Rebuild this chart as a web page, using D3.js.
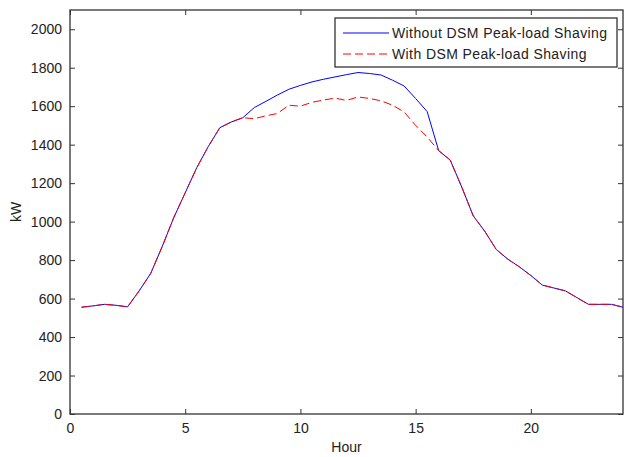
<!DOCTYPE html>
<html>
<head>
<meta charset="utf-8">
<script src="https://cdn.jsdelivr.net/npm/d3@7"></script>
<style>
body { margin: 0; background: #fff; }
text { font-family: "Liberation Sans", Arial, sans-serif; font-size: 14px; fill: #222; }
</style>
</head>
<body>
<div id="chart"></div>
<script>
// Width and height
var w = 626;
var h = 457;
var margin = {top: 10, right: 3, bottom: 43, left: 70};

// hours (half-hour steps) and loads in kW
var hours = [0.5, 1, 1.5, 2, 2.5, 3, 3.5, 4, 4.5, 5, 5.5, 6, 6.5, 7, 7.5, 8, 8.5, 9, 9.5, 10,
             10.5, 11, 11.5, 12, 12.5, 13, 13.5, 14, 14.5, 15, 15.5, 16, 16.5, 17, 17.5, 18, 18.5, 19, 19.5, 20,
             20.5, 21, 21.5, 22, 22.5, 23, 23.5, 24];
var withoutDSM = [555, 562, 570, 565, 557, 640, 730, 870, 1020, 1150, 1280, 1390, 1488, 1518, 1540, 1593, 1625, 1658, 1688, 1708,
                  1726, 1740, 1752, 1764, 1775, 1770, 1762, 1735, 1705, 1640, 1572, 1369, 1320, 1180, 1030, 950, 855, 805, 765, 720,
                  670, 655, 640, 605, 570, 570, 570, 555];
var withDSM = [555, 562, 570, 565, 557, 640, 730, 870, 1020, 1150, 1280, 1390, 1488, 1518, 1540, 1535, 1550, 1562, 1605, 1600,
               1620, 1632, 1642, 1630, 1648, 1640, 1628, 1605, 1570, 1500, 1440, 1369, 1320, 1180, 1030, 950, 855, 805, 765, 720,
               670, 655, 640, 605, 570, 570, 570, 555];
var seriesNames = ["Without DSM Peak-load Shaving", "With DSM Peak-load Shaving"];
var xTicks = [0, 5, 10, 15, 20];
var yTicks = [0, 200, 400, 600, 800, 1000, 1200, 1400, 1600, 1800, 2000];

var svg = d3.select("#chart")
	.append("svg")
	.attr("width", w)
	.attr("height", h);

var x = d3.scaleLinear().domain([0, 24]).range([margin.left, w - margin.right]);
var y = d3.scaleLinear().domain([0, 2100]).range([h - margin.bottom, margin.top]);

var axisColor = "#333";
var fmt = d3.format("d");

// ticks inward, on all four sides (matlab box)
svg.append("g")
	.attr("transform", "translate(0," + (h - margin.bottom) + ")")
	.call(d3.axisBottom(x).tickValues(xTicks).tickSizeInner(-5).tickSizeOuter(0).tickPadding(9).tickFormat(fmt));
svg.append("g")
	.attr("transform", "translate(0," + margin.top + ")")
	.call(d3.axisTop(x).tickValues(xTicks).tickSizeInner(-5).tickSizeOuter(0).tickFormat(""));
svg.append("g")
	.attr("transform", "translate(" + margin.left + ",0)")
	.call(d3.axisLeft(y).tickValues(yTicks).tickSizeInner(-5).tickSizeOuter(0).tickPadding(8).tickFormat(fmt));
svg.append("g")
	.attr("transform", "translate(" + (w - margin.right) + ",0)")
	.call(d3.axisRight(y).tickValues(yTicks).tickSizeInner(-5).tickSizeOuter(0).tickFormat(""));

svg.selectAll(".domain").remove();
svg.selectAll(".tick line").attr("stroke", axisColor);
svg.selectAll(".tick text").attr("font-family", null).attr("font-size", null).style("fill", "#222");

// box
svg.append("rect")
	.attr("x", x(0))
	.attr("y", y(2100))
	.attr("width", x(24) - x(0))
	.attr("height", y(0) - y(2100))
	.attr("fill", "none")
	.attr("stroke", axisColor)
	.attr("stroke-width", 1.3);

var line = d3.line()
	.x(function(d, i) { return x(hours[i]); })
	.y(function(d) { return y(d); });

svg.append("path")
	.datum(withoutDSM)
	.attr("d", line)
	.attr("fill", "none")
	.attr("stroke", "#0000ff")
	.attr("stroke-width", 1);

svg.append("path")
	.datum(withDSM)
	.attr("d", line)
	.attr("fill", "none")
	.attr("stroke", "#ff0000")
	.attr("stroke-width", 1)
	.attr("stroke-dasharray", "8,4");

// axis labels
svg.append("text")
	.attr("x", (x(0) + x(24)) / 2)
	.attr("y", 452)
	.attr("text-anchor", "middle")
	.text("Hour");
svg.append("text")
	.attr("transform", "translate(21," + y(1050) + ") rotate(-90)")
	.attr("text-anchor", "middle")
	.text("kW");

// legend
var legend = svg.append("g");
legend.append("rect")
	.attr("x", 335)
	.attr("y", 18)
	.attr("width", 282)
	.attr("height", 49)
	.attr("fill", "#fff")
	.attr("stroke", axisColor)
	.attr("stroke-width", 1.3);

var legendColors = ["#0000ff", "#ff0000"];
var legendDash = [null, "8,4"];
seriesNames.forEach(function(name, i) {
	var ly = 33 + i * 21;
	legend.append("line")
		.attr("x1", 343).attr("x2", 389)
		.attr("y1", ly).attr("y2", ly)
		.attr("stroke", legendColors[i])
		.attr("stroke-dasharray", legendDash[i]);
	legend.append("text")
		.attr("x", 392)
		.attr("y", ly + 5)
		.attr("letter-spacing", 0.4)
		.text(name);
});
</script>
</body>
</html>
